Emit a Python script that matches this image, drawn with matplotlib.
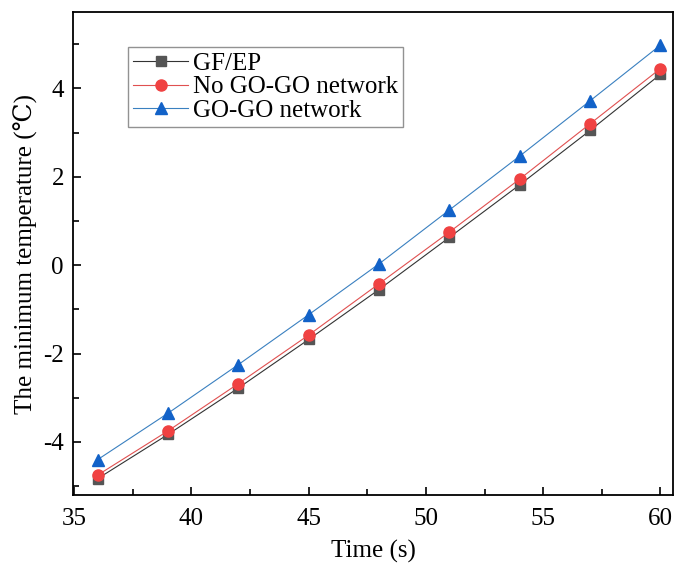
import numpy as np
import matplotlib
matplotlib.use('Agg')
import matplotlib.pyplot as plt
from matplotlib.ticker import MultipleLocator

plt.rcParams['font.family'] = ['Liberation Serif', 'DejaVu Serif']
plt.rcParams['axes.unicode_minus'] = False

time_s = [36, 39, 42, 45, 48, 51, 54, 57, 60]
gf_ep = [-4.83, -3.83, -2.78, -1.68, -0.55, 0.63, 1.82, 3.05, 4.32]
no_network = [-4.75, -3.75, -2.68, -1.58, -0.42, 0.75, 1.95, 3.20, 4.45]
go_network = [-4.40, -3.35, -2.25, -1.12, 0.03, 1.25, 2.47, 3.72, 4.98]

fig = plt.figure(figsize=(6.76, 5.67), dpi=100)
ax = fig.add_axes([0.108, 0.127, 0.888, 0.851])

ax.plot(time_s, gf_ep, color='#333333', lw=0.8, marker='s', ms=7,
        mfc='#555555', mec='#555555', label='GF/EP')
ax.plot(time_s, no_network, color='#e05050', lw=0.8, marker='o', ms=8,
        mfc='#f04242', mec='#f04242', label='No GO-GO network')
ax.plot(time_s, go_network, color='#3a80c0', lw=0.8, marker='^', ms=9,
        mfc='#1262c8', mec='#1262c8', label='GO-GO network')

ax.set_xlim(34.95, 60.55)
ax.set_ylim(-5.2, 5.72)
ax.xaxis.set_major_locator(MultipleLocator(5))
ax.xaxis.set_minor_locator(MultipleLocator(2.5))
ax.yaxis.set_major_locator(MultipleLocator(2))
ax.yaxis.set_minor_locator(MultipleLocator(1))
ax.tick_params(which='both', direction='in', labelsize=18, top=False, right=False)
ax.tick_params(which='major', length=6, width=1.2)
ax.tick_params(which='minor', length=4, width=1.2)
ax.tick_params(axis='x', which='major', pad=9.5)
ax.tick_params(axis='y', which='major', pad=6.5)
for s in ax.spines.values():
    s.set_linewidth(1.3)

ax.set_xlabel('Time (s)', fontsize=18, labelpad=7)
ax.set_ylabel('The minimum temperature (\u2103)', fontsize=18, labelpad=4)

leg = ax.legend(loc='upper left', bbox_to_anchor=(0.092, 0.928), fontsize=18,
                frameon=True, fancybox=False, edgecolor='#777777',
                handlelength=2.2, handletextpad=0.2, borderpad=0.2,
                labelspacing=0.05, borderaxespad=0)
leg.get_frame().set_linewidth(1.0)

fig.savefig('out.png', dpi=100)
